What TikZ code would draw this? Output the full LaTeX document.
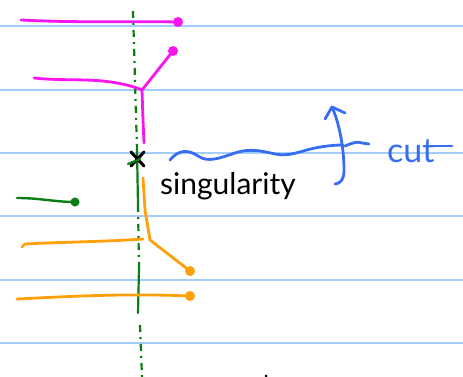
\documentclass[tikz,border=0pt]{standalone}
\usepackage{fontspec}
\setmainfont{Lato}
\usetikzlibrary{arrows.meta,calc}
\definecolor{rule}{RGB}{165,205,250}
\definecolor{mag}{RGB}{250,20,240}
\definecolor{org}{RGB}{255,160,10}
\definecolor{grn}{RGB}{10,125,20}
\definecolor{blu}{RGB}{55,110,240}
\tikzset{
  ruled/.style={rule, line width=1.8pt},
  pen/.style={line width=2.8pt, line cap=round, line join=round},
  blob/.style={circle, fill, inner sep=0pt, minimum size=#1},
  blob/.default=10pt,
  dashdot/.style={grn, line width=2.2pt, dash pattern=on 7pt off 5pt on 2pt off 5pt},
}
\begin{document}
\begin{tikzpicture}[x=1pt,y=-1pt]
\fill[white] (0,0) rectangle (463,377);
\useasboundingbox (0,0) rectangle (463,377);
% ruled lines
\foreach \y in {26,90,153,216,280,343}
  \draw[ruled] (0,\y) -- (463,\y);
% green dash-dot axis
\draw[dashdot] (133,11) -- (137,150);
\draw[grn, pen, line width=2.2pt] (137,150) -- (138,205);
\draw[dashdot] (138,205) -- (139,268);
\draw[grn, pen, line width=2.2pt] (139,268) -- (138,313);
\draw[dashdot] (140,325) -- (142,377);
% magenta
\coordinate (m1a) at (21,20);
\node[blob, mag] (m1d) at (178,22) {};
\draw[mag, pen] (m1a) .. controls (80,23) and (120,21) .. (m1d.center);
\coordinate (m2a) at (34,78);
\coordinate (mj) at (142,90);
\node[blob, mag] (m2d) at (173,51) {};
\draw[mag, pen] (m2a) .. controls (70,82) and (100,76) .. (137,88) -- (mj);
\draw[mag, pen] (mj) -- (m2d.center);
\draw[mag, pen] (mj) -- (143,120) -- (144,143);
% singularity cross
\coordinate (sing) at (137,159);
\draw[black, line width=3pt, line cap=round] ($(sing)+(-6,-7)$) -- ($(sing)+(7,7)$);
\draw[black, line width=3pt, line cap=round] ($(sing)+(-6,7)$) -- ($(sing)+(7,-7)$);
\draw[grn, line width=2.2pt, line cap=round] ($(sing)+(-9,5)$) -- ($(sing)+(3,0)$);
\node[anchor=base west, font=\fontsize{30}{31}\selectfont, inner sep=0pt] (lab) at (160,194) {singularity};
% green short
\coordinate (ga) at (17,198);
\node[blob=9pt, grn] (gd) at (75,202) {};
\draw[grn, pen, line width=2.4pt] (ga) .. controls (40,198) and (55,202) .. (gd.center);
% orange
\coordinate (ot) at (143,178);
\coordinate (oj) at (150,240);
\node[blob, org] (o1d) at (190,271) {};
\draw[org, pen] (ot) -- (145,210) -- (oj) -- (o1d.center);
\coordinate (o2a) at (22,247);
\coordinate (o2b) at (143,239);
\draw[org, pen] (o2a) -- (25,244) .. controls (60,242) and (100,242) .. (o2b);
\coordinate (o3a) at (17,299);
\node[blob, org] (o3d) at (190,296) {};
\draw[org, pen] (o3a) .. controls (60,297) and (120,293) .. (o3d.center);
% blue cut
\coordinate (w0) at (170,160);
\draw[blu, pen] (w0) .. controls (178,150) and (188,149) .. (198,156)
  .. controls (208,163) and (220,158) .. (235,153)
  .. controls (250,148) and (262,151) .. (275,154)
  .. controls (290,157) and (300,151) .. (315,148)
  .. controls (325,146) and (335,145) .. (343,145);
\draw[blu, pen] (345,146) .. controls (352,143) and (358,141) .. (362,143) -- (369,144);
\coordinate (atop) at (332,107);
\draw[blu, pen] (335,184) .. controls (342,183) and (344,178) .. (344,170)
  .. controls (344,150) and (340,125) .. (atop);
\draw[blu, pen] (325,119) -- (atop) -- (345,113);
\node[anchor=base west, blu, font=\fontsize{34}{35}\selectfont, inner sep=0pt] (cut) at (387,162) {cut};
\draw[blu, pen] (424,146) -- (452,146);
% tiny dot
\node[blob=3pt, black] (dot) at (266,376) {};
\end{tikzpicture}
\end{document}
